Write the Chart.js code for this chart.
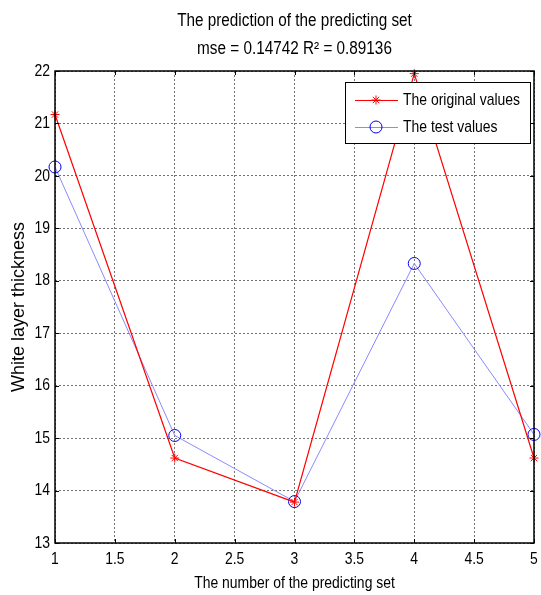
<!DOCTYPE html>
<html>
<head>
<meta charset="utf-8">
<script src="https://cdn.jsdelivr.net/npm/chart.js@4/dist/chart.umd.min.js"></script>
<style>
html,body{margin:0;padding:0;background:#fff;}
#wrap{width:541px;height:595px;position:relative;}
</style>
</head>
<body>
<div id="wrap"><canvas id="c" width="541" height="595"></canvas></div>
<script>
const xValues = [1, 2, 3, 4, 5];
const originalValues = [21.17, 14.62, 13.78, 21.95, 14.62];
const testValues = [20.17, 15.05, 13.79, 18.33, 15.07];
const titleLines = ['The prediction of the predicting set', 'mse = 0.14742 R\u00B2 = 0.89136'];
const seriesNames = ['The original values', 'The test values'];
const xTitle = 'The number of the predicting set';
const yTitle = 'White layer thickness';

const FONT = '"Liberation Sans Narrow", "Arial Narrow", "Liberation Sans", Arial, sans-serif';
Chart.defaults.font.family = FONT;
Chart.defaults.color = '#000';

// draw text horizontally condensed (narrow font look), still as real text
const SQ = 0.82;
function squeezeFor(text) {
  if (text === yTitle) return 1;
  if (titleLines.indexOf(text) >= 0) return 0.85;
  return SQ;
}
const origFill = CanvasRenderingContext2D.prototype.fillText;
CanvasRenderingContext2D.prototype.fillText = function(text, x, y, maxWidth) {
  const k = squeezeFor(text);
  this.save();
  this.translate(x, y);
  this.scale(k, 1);
  if (maxWidth !== undefined && maxWidth !== null) origFill.call(this, text, 0, 0, maxWidth / k);
  else origFill.call(this, text, 0, 0);
  this.restore();
};

const boxPlugin = {
  id: 'boxPlugin',
  afterDatasetsDraw(chart) {
    const {ctx, chartArea: a, scales} = chart;
    ctx.save();
    ctx.strokeStyle = '#000';
    ctx.lineWidth = 1;
    const L = 4;
    ctx.beginPath();
    scales.x.ticks.forEach(t => {
      const px = Math.round(scales.x.getPixelForValue(t.value)) + 0.5;
      ctx.moveTo(px, a.bottom); ctx.lineTo(px, a.bottom - L);
      ctx.moveTo(px, a.top); ctx.lineTo(px, a.top + L);
    });
    scales.y.ticks.forEach(t => {
      const py = Math.round(scales.y.getPixelForValue(t.value)) + 0.5;
      ctx.moveTo(a.left, py); ctx.lineTo(a.left + L, py);
      ctx.moveTo(a.right, py); ctx.lineTo(a.right - L, py);
    });
    ctx.stroke();
    ctx.lineWidth = 1.5;
    ctx.strokeRect(Math.round(a.left), Math.round(a.top), Math.round(a.right - a.left), Math.round(a.bottom - a.top));
    ctx.restore();
  },
  afterDraw(chart) {
    const {ctx, chartArea: a} = chart;
    const w = 185, h = 61;
    const x0 = Math.round(a.right - 4 - w), y0 = Math.round(a.top + 11);
    ctx.save();
    ctx.fillStyle = '#fff';
    ctx.fillRect(x0, y0, w, h);
    ctx.strokeStyle = '#000';
    ctx.lineWidth = 1;
    ctx.strokeRect(x0 + 0.5, y0 + 0.5, w, h);
    ctx.font = '17px ' + FONT;
    ctx.textBaseline = 'middle';
    chart.data.datasets.forEach((ds, i) => {
      const cy = y0 + 18 + i * 27;
      ctx.strokeStyle = ds.borderColor;
      ctx.lineWidth = 1;
      ctx.beginPath();
      ctx.moveTo(x0 + 10, cy + 0.5); ctx.lineTo(x0 + 53, cy + 0.5);
      ctx.stroke();
      ctx.strokeStyle = ds.pointBorderColor;
      ctx.fillStyle = 'rgba(0,0,0,0)';
      Chart.helpers.drawPoint(ctx, {
        pointStyle: ds.pointStyle, radius: ds.pointRadius, borderWidth: 1, rotation: 0
      }, x0 + 31, cy);
      ctx.fillStyle = '#000';
      ctx.fillText(ds.label, x0 + 58, cy);
    });
    ctx.restore();
  }
};

new Chart(document.getElementById('c'), {
  type: 'line',
  data: {
    datasets: [
      {
        label: seriesNames[0],
        data: xValues.map((x, i) => ({x, y: originalValues[i]})),
        borderColor: '#ff0000',
        borderWidth: 1.2,
        pointStyle: 'star',
        pointRadius: 4.5,
        pointBorderColor: '#ff0000',
        pointBorderWidth: 1,
        pointBackgroundColor: 'rgba(0,0,0,0)',
        tension: 0,
        clip: false
      },
      {
        label: seriesNames[1],
        data: xValues.map((x, i) => ({x, y: testValues[i]})),
        borderColor: '#8a8aff',
        borderWidth: 1,
        pointStyle: 'circle',
        pointRadius: 6,
        pointBorderColor: '#0000ff',
        pointBorderWidth: 1,
        pointBackgroundColor: 'rgba(0,0,0,0)',
        tension: 0,
        clip: false
      }
    ]
  },
  options: {
    responsive: false,
    animation: false,
    events: [],
    layout: {padding: {left: 0, right: 0, top: 0, bottom: 0}},
    plugins: {
      legend: {display: false},
      tooltip: {enabled: false},
      title: {
        display: true,
        fullSize: false,
        text: titleLines,
        color: '#000',
        font: {size: 18, weight: 'normal', lineHeight: 1.556},
        padding: {top: 7, bottom: 8}
      }
    },
    scales: {
      x: {
        type: 'linear',
        min: 1, max: 5,
        ticks: {stepSize: 0.5, font: {size: 17}, padding: 6, color: '#000', maxRotation: 0,
                callback: v => String(v)},
        grid: {color: 'rgba(0,0,0,0.55)', drawTicks: false, lineWidth: 1},
        border: {display: false, dash: [2, 2]},
        title: {display: true, text: xTitle, font: {size: 17}, color: '#000', padding: {top: 0, bottom: 1}},
        afterFit(s) { s.height = 52; s.paddingRight = 4; s.paddingLeft = 0; }
      },
      y: {
        type: 'linear',
        min: 13, max: 22,
        ticks: {stepSize: 1, font: {size: 17}, padding: 5, color: '#000', callback: v => String(v)},
        grid: {color: 'rgba(0,0,0,0.55)', drawTicks: false, lineWidth: 1},
        border: {display: false, dash: [2, 2]},
        title: {display: true, text: yTitle, font: {size: 18}, color: '#000', padding: {top: 8, bottom: 0}},
        afterFit(s) { s.width = 55; s.paddingTop = 0; s.paddingBottom = 0; }
      }
    }
  },
  plugins: [boxPlugin]
});
</script>
</body>
</html>
